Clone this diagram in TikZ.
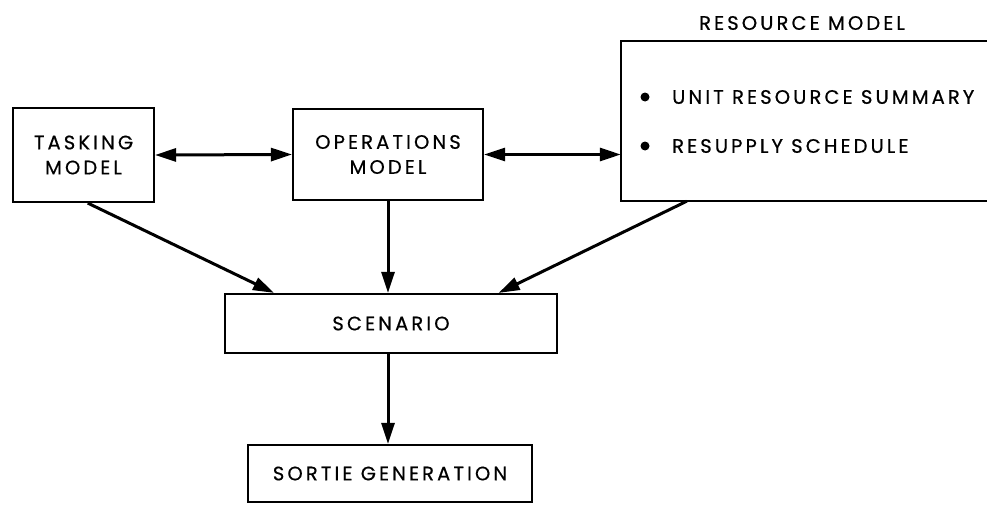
\documentclass[tikz,border=0pt]{standalone}
\usepackage{fontspec}
\setmainfont{Poppins}[LetterSpace=16,FakeBold=0.6]
\usetikzlibrary{arrows.meta,calc}
\begin{document}
\begin{tikzpicture}[x=1pt,y=-1pt,
  box/.style={draw=black,line width=2.2pt,inner sep=0pt,align=center,font=\fontsize{19.5}{25}\selectfont},
  lbl/.style={inner sep=0pt,font=\fontsize{19.5}{20}\selectfont},
  arr/.style={line width=3pt,-{Triangle[length=21pt,width=13pt]}},
  darr/.style={line width=3pt,{Triangle[length=21pt,width=13pt]}-{Triangle[length=21pt,width=13pt]}}]
\useasboundingbox (0,0) rectangle (987,506);
\node[box,minimum width=141pt,minimum height=94pt] (tasking) at (83.5,155) {TASKING\\MODEL};
\node[box,minimum width=190pt,minimum height=91pt] (ops) at (388,154.5) {OPERATIONS\\MODEL};
\node[inner sep=0pt,minimum width=366pt,minimum height=160pt] (resource) at (804,121) {};
\draw[line width=2.2pt] (resource.north east) -- (resource.north west) -- (resource.south west) -- (resource.south east);
\node[lbl] (restitle) at (802,23) {RESOURCE MODEL};
\node[lbl,anchor=west] (item1) at (672,97) {UNIT RESOURCE SUMMARY};
\node[lbl,anchor=west] (item2) at (672,146) {RESUPPLY SCHEDULE};
\fill (645,97) circle (4.5pt);
\fill (645,146) circle (4.5pt);
\node[box,minimum width=332pt,minimum height=59pt] (scenario) at (391,323.5) {SCENARIO};
\node[box,minimum width=284pt,minimum height=57pt] (sortie) at (390,473.5) {SORTIE GENERATION};
\draw[darr] (tasking.east) -- (ops.west);
\draw[darr] (ops.east) -- (ops.east -| resource.west);
\draw[arr] ($(tasking.south west)!0.53!(tasking.south east)$) -- ($(scenario.north west)!0.15!(scenario.north east)$);
\draw[arr] (ops.south) -- (ops.south |- scenario.north);
\draw[arr] ($(resource.south west)!0.18!(resource.south east)$) -- ($(scenario.north west)!0.822!(scenario.north east)$);
\draw[arr] (scenario.south -| ops.south) -- (sortie.north -| ops.south);
\end{tikzpicture}
\end{document}
